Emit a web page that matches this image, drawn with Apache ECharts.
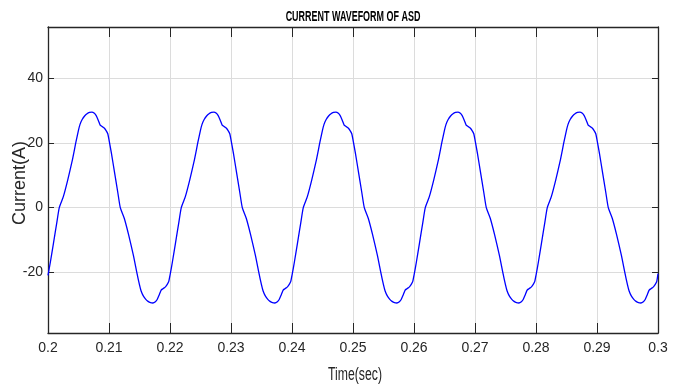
<!DOCTYPE html>
<html>
<head>
<meta charset="utf-8">
<title>Current waveform of ASD</title>
<script src="https://cdn.jsdelivr.net/npm/echarts@6/dist/echarts.min.js"></script>
<style>
  html, body { margin: 0; padding: 0; background: #ffffff; }
  #chart { width: 681px; height: 385px; }
</style>
</head>
<body>
<div id="chart"></div>
<script>
// Sampled drive current, time in seconds
const timeSec = [
  0.2, 0.2004, 0.2009, 0.20145, 0.20185, 0.2025, 0.2032, 0.204, 0.2046, 0.205, 0.20525, 0.2056, 0.206, 0.2064, 0.2068, 0.2072, 0.20755, 0.2079, 0.20825, 0.20855, 0.2089, 0.20925, 0.20955, 0.2098,
  0.21, 0.2104, 0.2109, 0.21145, 0.21185, 0.2125, 0.2132, 0.214, 0.2146, 0.215, 0.21525, 0.2156, 0.216, 0.2164, 0.2168, 0.2172, 0.21755, 0.2179, 0.21825, 0.21855, 0.2189, 0.21925, 0.21955, 0.2198,
  0.22, 0.2204, 0.2209, 0.22145, 0.22185, 0.2225, 0.2232, 0.224, 0.2246, 0.225, 0.22525, 0.2256, 0.226, 0.2264, 0.2268, 0.2272, 0.22755, 0.2279, 0.22825, 0.22855, 0.2289, 0.22925, 0.22955, 0.2298,
  0.23, 0.2304, 0.2309, 0.23145, 0.23185, 0.2325, 0.2332, 0.234, 0.2346, 0.235, 0.23525, 0.2356, 0.236, 0.2364, 0.2368, 0.2372, 0.23755, 0.2379, 0.23825, 0.23855, 0.2389, 0.23925, 0.23955, 0.2398,
  0.24, 0.2404, 0.2409, 0.24145, 0.24185, 0.2425, 0.2432, 0.244, 0.2446, 0.245, 0.24525, 0.2456, 0.246, 0.2464, 0.2468, 0.2472, 0.24755, 0.2479, 0.24825, 0.24855, 0.2489, 0.24925, 0.24955, 0.2498,
  0.25, 0.2504, 0.2509, 0.25145, 0.25185, 0.2525, 0.2532, 0.254, 0.2546, 0.255, 0.25525, 0.2556, 0.256, 0.2564, 0.2568, 0.2572, 0.25755, 0.2579, 0.25825, 0.25855, 0.2589, 0.25925, 0.25955, 0.2598,
  0.26, 0.2604, 0.2609, 0.26145, 0.26185, 0.2625, 0.2632, 0.264, 0.2646, 0.265, 0.26525, 0.2656, 0.266, 0.2664, 0.2668, 0.2672, 0.26755, 0.2679, 0.26825, 0.26855, 0.2689, 0.26925, 0.26955, 0.2698,
  0.27, 0.2704, 0.2709, 0.27145, 0.27185, 0.2725, 0.2732, 0.274, 0.2746, 0.275, 0.27525, 0.2756, 0.276, 0.2764, 0.2768, 0.2772, 0.27755, 0.2779, 0.27825, 0.27855, 0.2789, 0.27925, 0.27955, 0.2798,
  0.28, 0.2804, 0.2809, 0.28145, 0.28185, 0.2825, 0.2832, 0.284, 0.2846, 0.285, 0.28525, 0.2856, 0.286, 0.2864, 0.2868, 0.2872, 0.28755, 0.2879, 0.28825, 0.28855, 0.2889, 0.28925, 0.28955, 0.2898,
  0.29, 0.2904, 0.2909, 0.29145, 0.29185, 0.2925, 0.2932, 0.294, 0.2946, 0.295, 0.29525, 0.2956, 0.296, 0.2964, 0.2968, 0.2972, 0.29755, 0.2979, 0.29825, 0.29855, 0.2989, 0.29925, 0.29955, 0.2998,
  0.3
];

// Current in amperes at each sample time
const currentA = [
  -21.0, -16.8, -11.0, -4.6, 0.0, 3.3, 8.3, 14.8, 20.5, 24.0, 25.8, 27.3, 28.4, 29.1, 29.5, 29.6, 29.3, 28.5, 27.0, 25.6, 25.1, 24.6, 23.8, 22.9,
  21.0, 16.8, 11.0, 4.6, 0.0, -3.3, -8.3, -14.8, -20.5, -24.0, -25.8, -27.3, -28.4, -29.1, -29.5, -29.6, -29.3, -28.5, -27.0, -25.6, -25.1, -24.6, -23.8, -22.9,
  -21.0, -16.8, -11.0, -4.6, 0.0, 3.3, 8.3, 14.8, 20.5, 24.0, 25.8, 27.3, 28.4, 29.1, 29.5, 29.6, 29.3, 28.5, 27.0, 25.6, 25.1, 24.6, 23.8, 22.9,
  21.0, 16.8, 11.0, 4.6, 0.0, -3.3, -8.3, -14.8, -20.5, -24.0, -25.8, -27.3, -28.4, -29.1, -29.5, -29.6, -29.3, -28.5, -27.0, -25.6, -25.1, -24.6, -23.8, -22.9,
  -21.0, -16.8, -11.0, -4.6, 0.0, 3.3, 8.3, 14.8, 20.5, 24.0, 25.8, 27.3, 28.4, 29.1, 29.5, 29.6, 29.3, 28.5, 27.0, 25.6, 25.1, 24.6, 23.8, 22.9,
  21.0, 16.8, 11.0, 4.6, 0.0, -3.3, -8.3, -14.8, -20.5, -24.0, -25.8, -27.3, -28.4, -29.1, -29.5, -29.6, -29.3, -28.5, -27.0, -25.6, -25.1, -24.6, -23.8, -22.9,
  -21.0, -16.8, -11.0, -4.6, 0.0, 3.3, 8.3, 14.8, 20.5, 24.0, 25.8, 27.3, 28.4, 29.1, 29.5, 29.6, 29.3, 28.5, 27.0, 25.6, 25.1, 24.6, 23.8, 22.9,
  21.0, 16.8, 11.0, 4.6, 0.0, -3.3, -8.3, -14.8, -20.5, -24.0, -25.8, -27.3, -28.4, -29.1, -29.5, -29.6, -29.3, -28.5, -27.0, -25.6, -25.1, -24.6, -23.8, -22.9,
  -21.0, -16.8, -11.0, -4.6, 0.0, 3.3, 8.3, 14.8, 20.5, 24.0, 25.8, 27.3, 28.4, 29.1, 29.5, 29.6, 29.3, 28.5, 27.0, 25.6, 25.1, 24.6, 23.8, 22.9,
  21.0, 16.8, 11.0, 4.6, 0.0, -3.3, -8.3, -14.8, -20.5, -24.0, -25.8, -27.3, -28.4, -29.1, -29.5, -29.6, -29.3, -28.5, -27.0, -25.6, -25.1, -24.6, -23.8, -22.9,
  -20.5
];

// Axis ranges and tick spacing
const timeRange = [0.2, 0.3];
const timeStep = 0.01;
const currentRange = [-38.9, 56];

const chartTitle = 'CURRENT WAVEFORM OF ASD';
const xName = 'Time(sec)';
const yName = 'Current(A)';

const ink = '#262626';
const sans = '"Liberation Sans", Arial, Helvetica, sans-serif';

const points = timeSec.map((t, i) => [t, currentA[i]]);

const chart = echarts.init(document.getElementById('chart'), null, { renderer: 'canvas' });

const axisLineStyle = { show: true, onZero: false, lineStyle: { color: ink, width: 1.3 } };

chart.setOption({
  backgroundColor: '#ffffff',
  animation: false,
  grid: { left: 48, right: 23, top: 27, bottom: 52, containLabel: false, outerBoundsMode: 'none' },
  // Condensed headings: title and axis names, horizontally squeezed text
  graphic: [
    {
      type: 'text',
      x: 353, y: 17,
      scaleX: 0.64,
      style: { text: chartTitle, fontFamily: sans, fontSize: 14, fontWeight: 'bold', fill: '#000000', align: 'center', verticalAlign: 'middle' }
    },
    {
      type: 'text',
      x: 355, y: 375,
      scaleX: 0.68,
      style: { text: xName, fontFamily: sans, fontSize: 18, fill: ink, align: 'center', verticalAlign: 'middle' }
    },
    {
      type: 'text',
      x: 20, y: 183,
      rotation: Math.PI / 2,
      style: { text: yName, fontFamily: sans, fontSize: 18, fill: ink, align: 'center', verticalAlign: 'middle' }
    }
  ],
  xAxis: [
    {
      type: 'value',
      min: timeRange[0],
      max: timeRange[1],
      interval: timeStep,
      position: 'bottom',
      axisLine: axisLineStyle,
      axisTick: { show: true, inside: true, length: 10, lineStyle: { color: ink, width: 1 } },
      axisLabel: { fontFamily: sans, fontSize: 14, color: ink, margin: 8 },
      splitLine: { show: true, lineStyle: { color: '#dcdcdc', width: 1 } }
    },
    {
      type: 'value',
      min: timeRange[0],
      max: timeRange[1],
      interval: timeStep,
      position: 'top',
      axisLine: axisLineStyle,
      axisTick: { show: true, inside: true, length: 10, lineStyle: { color: ink, width: 1 } },
      axisLabel: { show: false },
      splitLine: { show: false }
    }
  ],
  yAxis: [
    {
      type: 'value',
      min: currentRange[0],
      max: currentRange[1],
      splitNumber: 5,
      position: 'left',
      axisLine: axisLineStyle,
      axisTick: { show: true, inside: true, length: 6, lineStyle: { color: ink, width: 1 } },
      axisLabel: { fontFamily: sans, fontSize: 14, color: ink, margin: 5, showMinLabel: false, showMaxLabel: false },
      splitLine: { show: true, lineStyle: { color: '#dcdcdc', width: 1 } }
    },
    {
      type: 'value',
      min: currentRange[0],
      max: currentRange[1],
      splitNumber: 5,
      position: 'right',
      axisLine: axisLineStyle,
      axisTick: { show: true, inside: true, length: 6, lineStyle: { color: ink, width: 1 } },
      axisLabel: { show: false },
      splitLine: { show: false }
    }
  ],
  series: [
    {
      type: 'line',
      xAxisIndex: 0,
      yAxisIndex: 0,
      data: points,
      showSymbol: false,
      smooth: 0.2,
      clip: true,
      lineStyle: { color: '#0000ff', width: 1.3 },
      emphasis: { disabled: true }
    }
  ]
});
</script>
</body>
</html>
